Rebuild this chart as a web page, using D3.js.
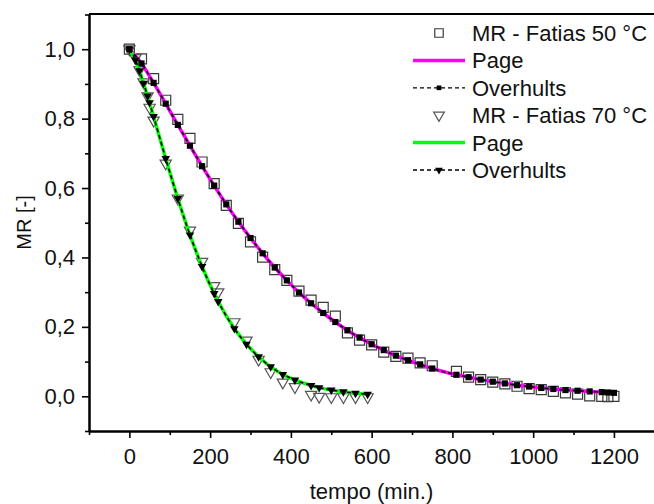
<!DOCTYPE html>
<html>
<head>
<meta charset="utf-8">
<script src="https://cdn.jsdelivr.net/npm/d3@7"></script>
<style>
  body { margin: 0; background: #fff; }
  svg { display: block; font-family: "Liberation Sans", Arial, sans-serif; }
</style>
</head>
<body>
<svg id="chart" width="654" height="504"></svg>
<script>
// tempo (min.) and MR for the 50 °C slices
const t50 = [0, 30, 60, 90, 120, 150, 180, 210, 240, 270, 300, 330, 360, 390, 420, 450, 480, 510, 540, 570,
    600, 630, 660, 690, 720, 750, 810, 840, 870, 900, 930, 960, 990, 1020, 1050, 1080, 1110, 1140, 1170, 1185, 1200];
const mr50 = [1.0, 0.972, 0.915, 0.853, 0.798, 0.743, 0.675, 0.613, 0.550, 0.498, 0.445, 0.401, 0.365, 0.334, 0.303,
    0.277, 0.256, 0.231, 0.183, 0.162, 0.148, 0.127, 0.115, 0.110, 0.096, 0.088, 0.072, 0.055, 0.048, 0.041,
    0.036, 0.029, 0.022, 0.019, 0.014, 0.010, 0.006, 0.001, 0.000, -0.001, 0.000];
const fit50 = [1.0, 0.959, 0.903, 0.843, 0.782, 0.722, 0.663, 0.607, 0.553, 0.503, 0.456, 0.412, 0.371, 0.334, 0.299,
    0.268, 0.240, 0.214, 0.190, 0.169, 0.150, 0.133, 0.117, 0.104, 0.092, 0.080, 0.062, 0.055, 0.048, 0.042,
    0.037, 0.032, 0.028, 0.024, 0.021, 0.018, 0.016, 0.014, 0.012, 0.011, 0.010];

// 70 °C slices
const t70 = [0, 15, 25, 35, 45, 50, 60, 90, 120, 150, 180, 210, 220, 260, 290, 320, 350, 380, 410, 450, 470, 500, 530, 560, 590];
const mr70 = [1.0, 0.975, 0.940, 0.905, 0.865, 0.832, 0.795, 0.671, 0.570, 0.478, 0.388, 0.318, 0.300, 0.214, 0.161,
    0.106, 0.070, 0.040, 0.027, 0.005, -0.001, -0.002, -0.002, -0.002, -0.002];
const fit70 = [1.0, 0.969, 0.938, 0.902, 0.865, 0.846, 0.806, 0.685, 0.570, 0.465, 0.374, 0.296, 0.273, 0.195, 0.150,
    0.114, 0.085, 0.063, 0.047, 0.031, 0.025, 0.018, 0.013, 0.009, 0.006];

const xTicks = [0, 200, 400, 600, 800, 1000, 1200];
const xMinor = [-100, 100, 300, 500, 700, 900, 1100, 1300];
const yTicks = [0, 0.2, 0.4, 0.6, 0.8, 1.0];
const yMinor = [-0.1, 0.1, 0.3, 0.5, 0.7, 0.9, 1.1];

const legendItems = [
    { label: "MR - Fatias 50 °C", kind: "square" },
    { label: "Page", kind: "line", color: "#ff00ff" },
    { label: "Overhults", kind: "dashSquare" },
    { label: "MR - Fatias 70 °C", kind: "triangle" },
    { label: "Page", kind: "line", color: "#00ff00" },
    { label: "Overhults", kind: "dashTriangle" }
];

const svg = d3.select("#chart");
const m = { left: 89, right: 654, top: 14, bottom: 431 };
const fontSize = 22;

const x = d3.scaleLinear().domain([-100, 1300]).range([m.left, m.right + 0.3]);
const y = d3.scaleLinear().domain([-0.1, 1.1]).range([m.bottom, m.top + 0.5]);

const comma = d3.formatLocale({ decimal: ",", thousands: ".", grouping: [3], currency: ["", ""] }).format(".1f");

const sq = d3.symbol().type(d3.symbolSquare);
const tri = d3.symbol().type(d3.symbolTriangle);

const exp50 = t50.map((t, i) => ({ t, v: mr50[i] }));
const mod50 = t50.map((t, i) => ({ t, v: fit50[i] }));
const exp70 = t70.map((t, i) => ({ t, v: mr70[i] }));
const mod70 = t70.map((t, i) => ({ t, v: fit70[i] }));

const line = d3.line().x(d => x(d.t)).y(d => y(d.v)).curve(d3.curveMonotoneX);

const plot = svg.append("g");

// experimental points
plot.selectAll(".sq").data(exp50).enter().append("path")
    .attr("d", sq.size(100)())
    .attr("transform", d => `translate(${x(d.t)},${y(d.v)})`)
    .attr("fill", "none").attr("stroke", "#3a3a3a").attr("stroke-width", 1.2);

plot.selectAll(".tri").data(exp70).enter().append("path")
    .attr("d", tri.size(55)())
    .attr("transform", d => `translate(${x(d.t)},${y(d.v)}) rotate(180)`)
    .attr("fill", "none").attr("stroke", "#555").attr("stroke-width", 1.2);

// Page model
plot.append("path").datum(mod50).attr("d", line)
    .attr("fill", "none").attr("stroke", "#ff00ff").attr("stroke-width", 3.5);
plot.append("path").datum(mod70).attr("d", line)
    .attr("fill", "none").attr("stroke", "#00ff00").attr("stroke-width", 3.5);

// Overhults model
[mod50, mod70].forEach(d => {
    plot.append("path").datum(d).attr("d", line)
        .attr("fill", "none").attr("stroke", "#000").attr("stroke-width", 1.6)
        .attr("stroke-dasharray", "4,3");
});
plot.selectAll(".fsq").data(mod50).enter().append("path")
    .attr("d", sq.size(38)())
    .attr("transform", d => `translate(${x(d.t)},${y(d.v)})`)
    .attr("fill", "#000");
plot.selectAll(".ftri").data(mod70).enter().append("path")
    .attr("d", tri.size(32)())
    .attr("transform", d => `translate(${x(d.t)},${y(d.v)}) rotate(180)`)
    .attr("fill", "#000");

// axes
const axG = svg.append("g");

axG.append("g").attr("transform", `translate(0,${m.bottom})`)
    .call(d3.axisBottom(x).tickValues(xTicks).tickSize(7).tickSizeOuter(0).tickPadding(10).tickFormat(d3.format("d")));
axG.append("g").attr("transform", `translate(0,${m.bottom})`)
    .call(d3.axisBottom(x).tickValues(xMinor).tickSize(4).tickSizeOuter(0).tickFormat(""));
axG.append("g").attr("transform", `translate(${m.left},0)`)
    .call(d3.axisLeft(y).tickValues(yTicks).tickSize(7).tickSizeOuter(0).tickPadding(7).tickFormat(comma));
axG.append("g").attr("transform", `translate(${m.left},0)`)
    .call(d3.axisLeft(y).tickValues(yMinor).tickSize(4).tickSizeOuter(0).tickFormat(""));

axG.selectAll("g").attr("font-size", fontSize).attr("font-family", "Liberation Sans, Arial, sans-serif");
axG.selectAll(".domain").attr("stroke", "#000").attr("stroke-width", 2);
axG.selectAll(".tick line").attr("stroke", "#000").attr("stroke-width", 1.6);
axG.selectAll("text").attr("fill", "#111");

// top frame
svg.append("line").attr("x1", m.left).attr("x2", m.right).attr("y1", m.top).attr("y2", m.top)
    .attr("stroke", "#000").attr("stroke-width", 2);

// axis titles
svg.append("text").attr("x", (m.left + m.right) / 2).attr("y", 499)
    .attr("text-anchor", "middle").attr("font-size", fontSize).attr("fill", "#111")
    .text("tempo (min.)");
svg.append("text").attr("transform", `translate(31,${(m.top + m.bottom) / 2}) rotate(-90)`)
    .attr("text-anchor", "middle").attr("font-size", 20).attr("fill", "#111")
    .text("MR [-]");

// legend
const lg = svg.append("g").attr("font-size", fontSize);
const rowY = i => 33 + i * 27.4;
legendItems.forEach((it, i) => {
    const g = lg.append("g").attr("transform", `translate(0,${rowY(i)})`);
    if (it.kind === "square") {
        g.append("path").attr("d", sq.size(72)()).attr("transform", "translate(439,0)")
            .attr("fill", "none").attr("stroke", "#3a3a3a").attr("stroke-width", 1.2);
    } else if (it.kind === "triangle") {
        g.append("path").attr("d", tri.size(50)()).attr("transform", "translate(439,0) rotate(180)")
            .attr("fill", "none").attr("stroke", "#555").attr("stroke-width", 1.2);
    } else if (it.kind === "line") {
        g.append("line").attr("x1", 413).attr("x2", 465).attr("stroke", it.color).attr("stroke-width", 3.5);
    } else {
        g.append("line").attr("x1", 413).attr("x2", 465).attr("stroke", "#000")
            .attr("stroke-width", 1.3).attr("stroke-dasharray", "4,3");
        const mk = it.kind === "dashSquare" ? sq.size(22)() : tri.size(26)();
        g.append("path").attr("d", mk)
            .attr("transform", it.kind === "dashSquare" ? "translate(439,0)" : "translate(439,0) rotate(180)")
            .attr("fill", "#000");
    }
    g.append("text").attr("x", 472).attr("y", 8).attr("fill", "#111").text(it.label);
});
</script>
</body>
</html>
